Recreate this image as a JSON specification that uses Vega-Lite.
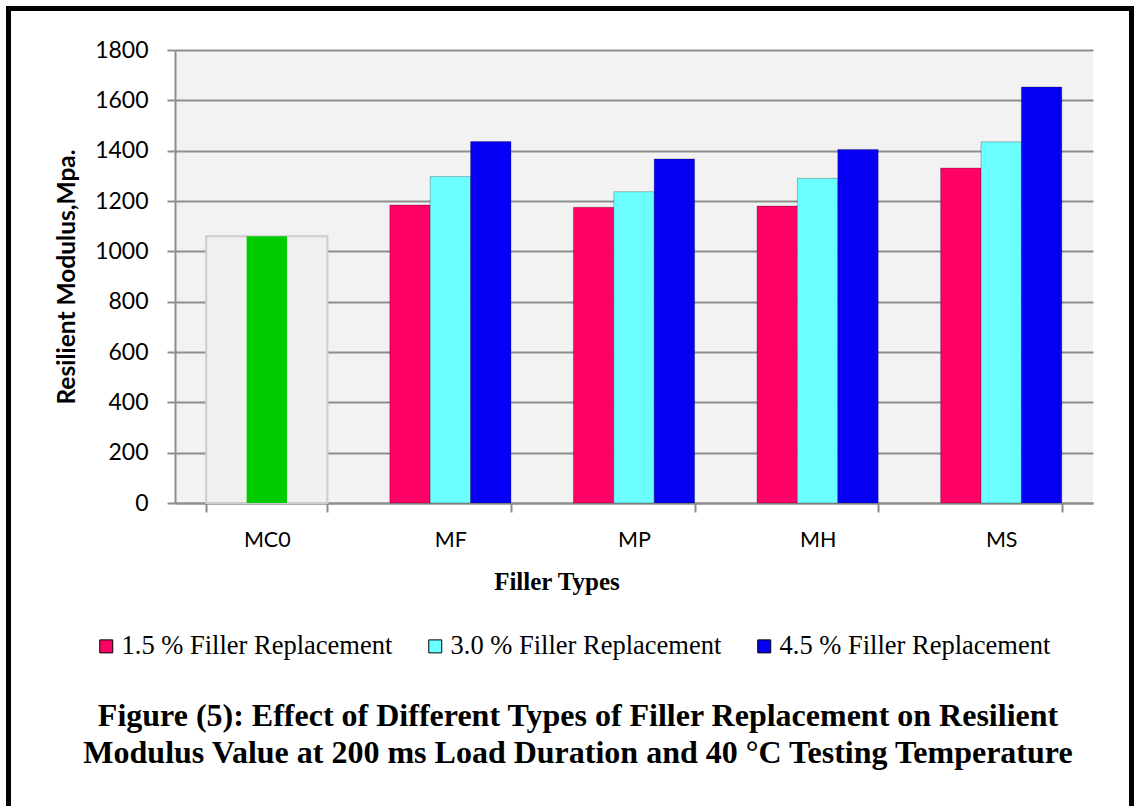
{
  "$schema": "https://vega.github.io/schema/vega-lite/v6.json",
  "autosize": {"type": "none"},
  "padding": {"left": 175, "top": 50, "right": 47, "bottom": 303},
  "width": 918,
  "height": 453,
  "background": "white",
  "title": {
    "text": [
      "Figure (5): Effect of Different Types of Filler Replacement on Resilient",
      "Modulus Value at 200 ms Load Duration and 40 °C Testing Temperature"
    ],
    "font": "Liberation Serif",
    "fontSize": 32,
    "fontWeight": "bold",
    "color": "#000000",
    "anchor": "middle",
    "frame": "group",
    "baseline": "alphabetic",
    "lineHeight": 37,
    "offset": 0,
    "dx": -56,
    "dy": 786
  },
  "data": {
    "values": [
      {"type": "MC0", "mix": "Control", "value": 1060},
      {"type": "MF", "mix": "1.5 % Filler Replacement", "value": 1184},
      {"type": "MF", "mix": "3.0 % Filler Replacement", "value": 1297},
      {"type": "MF", "mix": "4.5 % Filler Replacement", "value": 1436},
      {"type": "MP", "mix": "1.5 % Filler Replacement", "value": 1175},
      {"type": "MP", "mix": "3.0 % Filler Replacement", "value": 1237},
      {"type": "MP", "mix": "4.5 % Filler Replacement", "value": 1367},
      {"type": "MH", "mix": "1.5 % Filler Replacement", "value": 1180},
      {"type": "MH", "mix": "3.0 % Filler Replacement", "value": 1290},
      {"type": "MH", "mix": "4.5 % Filler Replacement", "value": 1405},
      {"type": "MS", "mix": "1.5 % Filler Replacement", "value": 1331},
      {"type": "MS", "mix": "3.0 % Filler Replacement", "value": 1435},
      {"type": "MS", "mix": "4.5 % Filler Replacement", "value": 1653}
    ]
  },
  "encoding": {
    "x": {
      "field": "type",
      "type": "nominal",
      "scale": {"domain": ["MC0", "MF", "MP", "MH", "MS"], "paddingInner": 0.34, "paddingOuter": 0.17},
      "axis": {
        "grid": false,
        "tickBand": "extent",
        "domainColor": "#8d8d8d",
        "domainWidth": 2,
        "tickColor": "#8d8d8d",
        "tickWidth": 2,
        "tickSize": 9,
        "labelFont": "Lato",
        "labelFontSize": 21.5,
        "labelColor": "#000000",
        "labelPadding": 17,
        "labelAngle": 0,
        "title": "Filler Types",
        "titleFont": "Liberation Serif",
        "titleFontSize": 25,
        "titleFontWeight": "bold",
        "titleColor": "#000000",
        "titleX": 381.5,
        "titleY": 86,
        "titleBaseline": "alphabetic",
        "titleAlign": "center"
      }
    },
    "y": {
      "field": "value",
      "type": "quantitative",
      "scale": {"domain": [0, 1800], "nice": false},
      "axis": {
        "values": [0, 200, 400, 600, 800, 1000, 1200, 1400, 1600, 1800],
        "format": "d",
        "grid": true,
        "gridColor": "#8d8d8d",
        "gridWidth": 1.8,
        "domainColor": "#8d8d8d",
        "domainWidth": 2,
        "tickColor": "#8d8d8d",
        "tickWidth": 2,
        "tickSize": 8,
        "labelFont": "Lato",
        "labelFontSize": 23,
        "labelColor": "#000000",
        "labelPadding": 19,
        "title": "Resilient Modulus,Mpa.",
        "titleFont": "Lato",
        "titleFontSize": 24.5,
        "titleFontWeight": "bold",
        "titleColor": "#000000",
        "titlePadding": 15
      }
    }
  },
  "layer": [
    {
      "transform": [{"filter": "datum.type === 'MC0'"}],
      "mark": {"type": "bar", "fill": "#f0f0f0", "stroke": "#cdcdcd", "strokeWidth": 2}
    },
    {
      "transform": [{"filter": "datum.type === 'MC0'"}],
      "mark": {"type": "bar", "width": {"band": 0.3333}, "fill": "#00cc00", "strokeWidth": 1},
      "encoding": {
        "stroke": {
          "field": "value",
          "type": "quantitative",
          "scale": {"range": ["rgba(0,0,0,0)", "rgba(0,0,0,0)"]},
          "legend": {
            "orient": "none",
            "legendX": -166.5,
            "legendY": -41.5,
            "direction": "vertical",
            "title": null,
            "gradientLength": 815,
            "gradientThickness": 1123,
            "gradientStrokeColor": "#000000",
            "gradientStrokeWidth": 5,
            "labelExpr": "''",
            "padding": 0
          }
        }
      }
    },
    {
      "transform": [{"filter": "datum.type !== 'MC0'"}],
      "mark": {"type": "bar", "stroke": "#000000", "strokeOpacity": 0.25, "strokeWidth": 1},
      "encoding": {
        "xOffset": {
          "field": "mix",
          "type": "nominal",
          "scale": {"domain": ["1.5 % Filler Replacement", "3.0 % Filler Replacement", "4.5 % Filler Replacement"]}
        },
        "color": {
          "field": "mix",
          "type": "nominal",
          "scale": {
            "domain": ["1.5 % Filler Replacement", "3.0 % Filler Replacement", "4.5 % Filler Replacement"],
            "range": ["#ff0066", "#6bffff", "#0500f5"]
          },
          "legend": {
            "orient": "none",
            "legendX": -82,
            "legendY": 583,
            "direction": "horizontal",
            "title": null,
            "symbolType": "square",
            "symbolSize": 169,
            "symbolStrokeWidth": 1,
            "labelFont": "Liberation Serif",
            "labelFontSize": 26.5,
            "labelColor": "#000000",
            "labelOffset": 2,
            "labelLimit": 500,
            "columnPadding": 29,
            "padding": 0
          }
        }
      }
    }
  ],
  "config": {
    "view": {"fill": "#f2f2f2", "stroke": null}
  }
}
